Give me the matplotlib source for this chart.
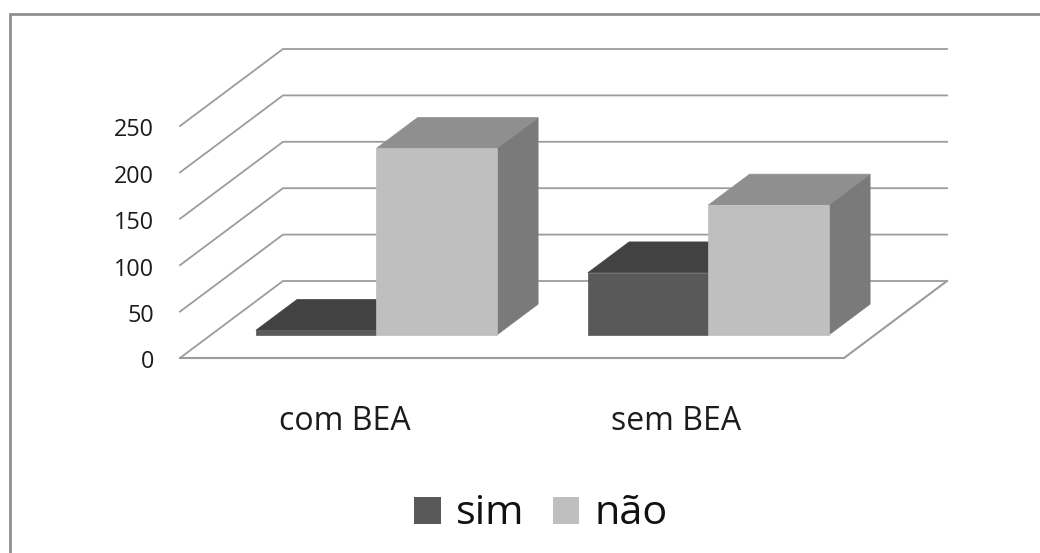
import matplotlib
matplotlib.use("Agg")
import matplotlib.pyplot as plt
from matplotlib.patches import Polygon

categories = ["com BEA", "sem BEA"]
series_names = ["sim", "não"]
sim_values = [5, 67]
nao_values = [201, 140]
tick_values = [0, 50, 100, 150, 200, 250]

WIDTH, HEIGHT = 1040, 553
FONT = ["Open Sans", "DejaVu Sans"]

# Oblique projection of the 3-D chart box onto the page (page units are pixels).
ORIGIN_X, ORIGIN_Y = 180.0, 358.0
PX_PER_CATEGORY = 332.0
PX_PER_UNIT = 46.4 / 50.0
DEPTH_DX, DEPTH_DY = 103.0, -77.0


def project(cat, value, depth=0.0):
    """Map (category position, value, depth 0..1) to page coordinates."""
    return (ORIGIN_X + cat * PX_PER_CATEGORY + depth * DEPTH_DX,
            ORIGIN_Y - value * PX_PER_UNIT + depth * DEPTH_DY)


fig = plt.figure(figsize=(WIDTH / 100, HEIGHT / 100), dpi=100)
ax = fig.add_axes([0, 0, 1, 1])
ax.set_xlim(0, WIDTH)
ax.set_ylim(HEIGHT, 0)
ax.axis("off")

# Outer frame: only the top and left edges fall inside the canvas.
ax.plot([9.5, 9.5, WIDTH], [HEIGHT, 13.5, 13.5], color="#8a8a8a", lw=1.9,
        solid_joinstyle="miter", zorder=1)

# Back wall gridlines with their slanted side-wall segments.
GRID = "#9c9c9c"
for v in tick_values:
    xs, ys = zip(project(0, v, 0), project(0, v, 1), project(2, v, 1))
    ax.plot(xs, ys, color=GRID, lw=1.3, zorder=2)
    lx, ly = project(0, v, 0)
    ax.text(lx - 26, ly + 10.5, str(v), ha="right", va="baseline", fontsize=16.8,
            color="#1c1c1c", family=FONT, zorder=6)

# Floor outline.
floor = [project(0, 0, 0), project(2, 0, 0), project(2, 0, 1)]
ax.plot(*zip(*floor), color=GRID, lw=1.5, zorder=2)

# Bars: each occupies part of a category slot and sits partway into the depth.
BAR_WIDTH = 120.5 / PX_PER_CATEGORY
BAR_START = 45.0 / PX_PER_CATEGORY
DEPTH_FRONT = 0.30
DEPTH_BACK = 0.70
SHADES = {
    "sim": ("#595959", "#424242", "#3a3a3a"),
    "não": ("#bfbfbf", "#8f8f8f", "#7a7a7a"),
}


def draw_bar(left, value, shades):
    right = left + BAR_WIDTH
    front, top, side = shades
    pts = dict(
        fb_l=project(left, 0, DEPTH_FRONT), fb_r=project(right, 0, DEPTH_FRONT),
        ft_l=project(left, value, DEPTH_FRONT), ft_r=project(right, value, DEPTH_FRONT),
        bt_l=project(left, value, DEPTH_BACK), bt_r=project(right, value, DEPTH_BACK),
        bb_r=project(right, 0, DEPTH_BACK),
    )
    faces = [
        ([pts["fb_r"], pts["ft_r"], pts["bt_r"], pts["bb_r"]], side),
        ([pts["ft_l"], pts["ft_r"], pts["bt_r"], pts["bt_l"]], top),
        ([pts["fb_l"], pts["fb_r"], pts["ft_r"], pts["ft_l"]], front),
    ]
    for poly, colour in faces:
        ax.add_patch(Polygon(poly, closed=True, facecolor=colour,
                             edgecolor=colour, lw=0.5, zorder=3))


for i in range(len(categories)):
    draw_bar(i + BAR_START, sim_values[i], SHADES["sim"])
    draw_bar(i + BAR_START + BAR_WIDTH, nao_values[i], SHADES["não"])

# Category labels under the floor.
for i, name in enumerate(categories):
    x, _ = project(i + 0.5, 0, 0)
    ax.text(x - 1.5, 430.5, name, ha="center", va="baseline", fontsize=23,
            color="#1c1c1c", family=FONT, zorder=6)

# Legend.
legend_items = [(414, 27, series_names[0], 456, SHADES["sim"][0]),
                (553, 26, series_names[1], 594, SHADES["não"][0])]
for x0, size, label, tx, colour in legend_items:
    ax.add_patch(Polygon([(x0, 497), (x0 + size, 497), (x0 + size, 524), (x0, 524)],
                         closed=True, facecolor=colour, edgecolor="none", zorder=3))
    ax.text(tx, 524, label, ha="left", va="baseline", fontsize=29.8,
            color="#111111", family=FONT, zorder=6)

fig.savefig("out.png", dpi=100, facecolor="white")
